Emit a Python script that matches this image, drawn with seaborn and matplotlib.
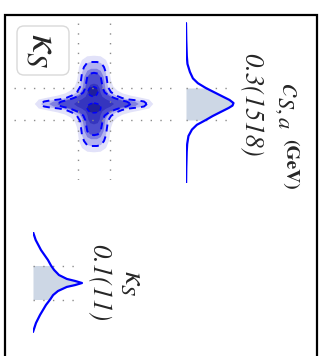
import numpy as np
import pandas as pd
import matplotlib
matplotlib.use("Agg")
import matplotlib.pyplot as plt
import seaborn as sns
from matplotlib.patches import Polygon, Ellipse, Rectangle, FancyBboxPatch

# ---------------- data ----------------
K0, K_SIG = 0.1, 1.1          # kappa_S = 0.1(11)
C0, C_SIG = 0.3, 151.8        # c_{S,a} = 0.3(1518) GeV

# marginal of c_{S,a} (GeV) and its relative density
c_grid = [-767.8, -606.9, -455.1, -379.2, -303.3, -242.6, -197.0, -151.5, -113.6,
          -75.6, -37.7, -8.8, 15.5, 38.3, 76.2, 114.2, 152.1, 197.6, 243.2,
          303.9, 379.8, 455.7, 607.5, 750.2]
c_dens = [0.0, 0.006, 0.017, 0.031, 0.083, 0.146, 0.25, 0.417, 0.583, 0.75,
          0.917, 1.0, 0.979, 0.896, 0.729, 0.5625, 0.417, 0.229, 0.125,
          0.052, 0.025, 0.015, 0.006, 0.002]

# marginal of kappa_S and its relative density
k_grid = [-3.167, -2.65, -2.001, -1.352, -1.0, -0.714, -0.384, -0.131, 0.001,
          0.133, 0.265, 0.386, 0.65, 0.914, 1.2, 1.552, 2.201, 2.718, 3.301]
k_dens = [0.0, 0.055, 0.163, 0.306, 0.367, 0.43, 0.53, 0.69, 0.86, 1.0, 0.86,
          0.69, 0.51, 0.41, 0.35, 0.265, 0.143, 0.061, 0.0]

# joint density contours, first quadrant, in units of 1 sigma (kappa, c)
halo_q = [(3.7, 0), (3.45, 0.28), (2.9, 0.4), (2.3, 0.52), (1.8, 0.66),
          (1.45, 0.85), (1.2, 1.1), (1.07, 1.45), (1.0, 1.85), (0.94, 2.3),
          (0.75, 2.75), (0.42, 2.98), (0, 3.02)]
outer_q = [(3.31, 0), (3.125, 0.156), (2.75, 0.219), (2.19, 0.281), (1.75, 0.375),
           (1.375, 0.53), (1.06, 0.75), (0.875, 1.06), (0.81, 1.5), (0.75, 1.94),
           (0.625, 2.31), (0.44, 2.56), (0.19, 2.625), (0, 2.625)]
mid_q = [(2.8, 0), (2.55, 0.15), (2.1, 0.22), (1.65, 0.31), (1.25, 0.44),
         (0.9, 0.64), (0.72, 0.94), (0.66, 1.3), (0.6, 1.7), (0.42, 2.07),
         (0.18, 2.2), (0, 2.2)]
inner_q = [(2.3, 0), (2.05, 0.15), (1.7, 0.23), (1.33, 0.35), (0.97, 0.5),
           (0.67, 0.72), (0.54, 1.02), (0.48, 1.38), (0.42, 1.7), (0.24, 1.9),
           (0, 1.95)]
core_q = [(1.25, 0), (1.02, 0.17), (0.74, 0.3), (0.52, 0.46), (0.41, 0.7),
          (0.35, 0.98), (0.23, 1.2), (0, 1.27)]
# densest spots: (kappa offset, c offset, width, height) in sigma units
blobs = [(-0.06, -0.78, 0.6, 0.6), (0.0, 0.25, 0.85, 0.6)]

c_title, c_unit, c_value = r"$c_{S,a}$", "(GeV)", "0.3(1518)"
k_title, k_value = r"$\kappa_S$", "0.1(11)"
k_label = r"$\kappa_S$"

# ---------------- style ----------------
sns.set_style("white")
plt.rcParams["mathtext.fontset"] = "stix"
plt.rcParams["font.family"] = ["STIXGeneral", "DejaVu Sans"]

W, H = 320, 356
fig = plt.figure(figsize=(W / 100, H / 100), dpi=100)

BLUE = "#0000ff"
FILL1D = "#cdd7e5"
DOT = dict(color="#8c8c8c", lw=1.0, ls=(0, (1, 6)))


def axes_px(l, t, r, b):
    ax = fig.add_axes([l / W, 1 - b / H, (r - l) / W, (b - t) / H])
    ax.set_axis_off()
    ax.patch.set_alpha(0)
    return ax


def c_at(py):
    return C0 + (py - 104) / 16 * C_SIG


def k2_at(px):
    return K0 + (px - 94) / 16 * K_SIG


def kh_at(py):
    return K0 + (py - 282.5) / 17 * K_SIG


# ---------- 2D panel ----------
ax2 = axes_px(14, 22, 172, 180)
ax2.set_xlim(k2_at(14), k2_at(172))
ax2.set_ylim(c_at(180), c_at(22))


def star(q):
    q = np.asarray(q, dtype=float)
    pts = np.vstack([q, q[::-1] * [-1, 1], q * [-1, -1], q[::-1] * [1, -1]])
    return np.column_stack([K0 + pts[:, 0] * K_SIG, C0 + pts[:, 1] * C_SIG])


fills = [(halo_q, "#e2e2f9"), (outer_q, "#b4b4f0"), (mid_q, "#8080e0"),
         (inner_q, "#4e4ece"), (core_q, "#3535bf")]
for i, (q, col) in enumerate(fills):
    ax2.add_patch(Polygon(star(q), closed=True, fc=col, ec="none", zorder=1 + i * 0.1))
for dk, dc, w, h in blobs:
    ax2.add_patch(Ellipse((K0 + dk * K_SIG, C0 + dc * C_SIG), w * K_SIG, h * C_SIG,
                          fc="#20209a", ec=BLUE, lw=1.1, ls=(0, (3, 2)), zorder=2))
for v in (K0 - K_SIG, K0 + K_SIG):
    ax2.axvline(v, zorder=3, **DOT)
for v in (C0 - C_SIG, C0 + C_SIG):
    ax2.axhline(v, zorder=3, **DOT)
for q in (outer_q, inner_q):
    ax2.add_patch(Polygon(star(q), closed=True, fill=False, ec=BLUE, lw=1.4,
                          ls=(0, (3.6, 2.6)), zorder=4, joinstyle="round"))

# ---------- c_{S,a} marginal ----------
axc = axes_px(186, 22, 236, 183)
dfc = pd.DataFrame({"c": c_grid, "d": c_dens})
sns.lineplot(data=dfc, x="d", y="c", orient="y", sort=False, color=BLUE, lw=1.6,
             ax=axc, zorder=4)
m = (dfc.c >= C0 - C_SIG - 1) & (dfc.c <= C0 + C_SIG + 1)
axc.fill_betweenx(dfc.c[m], 0, dfc.d[m], color=FILL1D, lw=0, zorder=1)
for v in (C0 - C_SIG, C0 + C_SIG):
    axc.axhline(v, xmin=0, xmax=0.84, zorder=3, **DOT)
axc.set_xlim(0, 50 / 47.5)
axc.set_ylim(c_at(183), c_at(22))
axc.set_axis_off()

# ---------- kappa_S marginal ----------
axk = axes_px(33, 232, 85, 333)
dfk = pd.DataFrame({"k": k_grid, "d": k_dens})
sns.lineplot(data=dfk, x="d", y="k", orient="y", sort=False, color=BLUE, lw=1.6,
             ax=axk, zorder=4)
m = (dfk.k >= K0 - K_SIG - 1e-6) & (dfk.k <= K0 + K_SIG + 1e-6)
axk.fill_betweenx(dfk.k[m], 0, dfk.d[m], color=FILL1D, lw=0, zorder=1)
for v in (K0 - K_SIG, K0 + K_SIG):
    axk.axhline(v, xmin=0, xmax=0.8, zorder=3, **DOT)
axk.set_xlim(0, 52 / 49)
axk.set_ylim(kh_at(333), kh_at(232))
axk.set_axis_off()


# ---------- texts ----------
def ftext(x, y, s, **kw):
    fig.text(x / W, 1 - y / H, s, rotation=-90, ha="center", va="center", **kw)


ftext(288, 105, c_title, fontsize=23)
ftext(290, 164, c_unit, fontsize=14, fontweight="bold")
ftext(250, 105, c_value, fontsize=19, style="italic")
ftext(132, 283, k_title, fontsize=22)
ftext(98, 283, k_value, fontsize=19, style="italic")

fig.add_artist(FancyBboxPatch((17 / 100, (H - 75) / 100), 52 / 100, 49 / 100,
                              boxstyle="round,pad=0,rounding_size=0.07",
                              transform=fig.dpi_scale_trans, fc="white",
                              ec="#d9d9d9", lw=1.0))
ftext(41, 51, k_label, fontsize=30)

# frame
fig.add_artist(Rectangle((5.2 / 100, -0.2), (316.5 - 5.2) / 100, (H - 15.3) / 100 + 0.2,
                         transform=fig.dpi_scale_trans, fill=False, ec="black",
                         lw=1.6))

fig.savefig("out.png", dpi=100)
